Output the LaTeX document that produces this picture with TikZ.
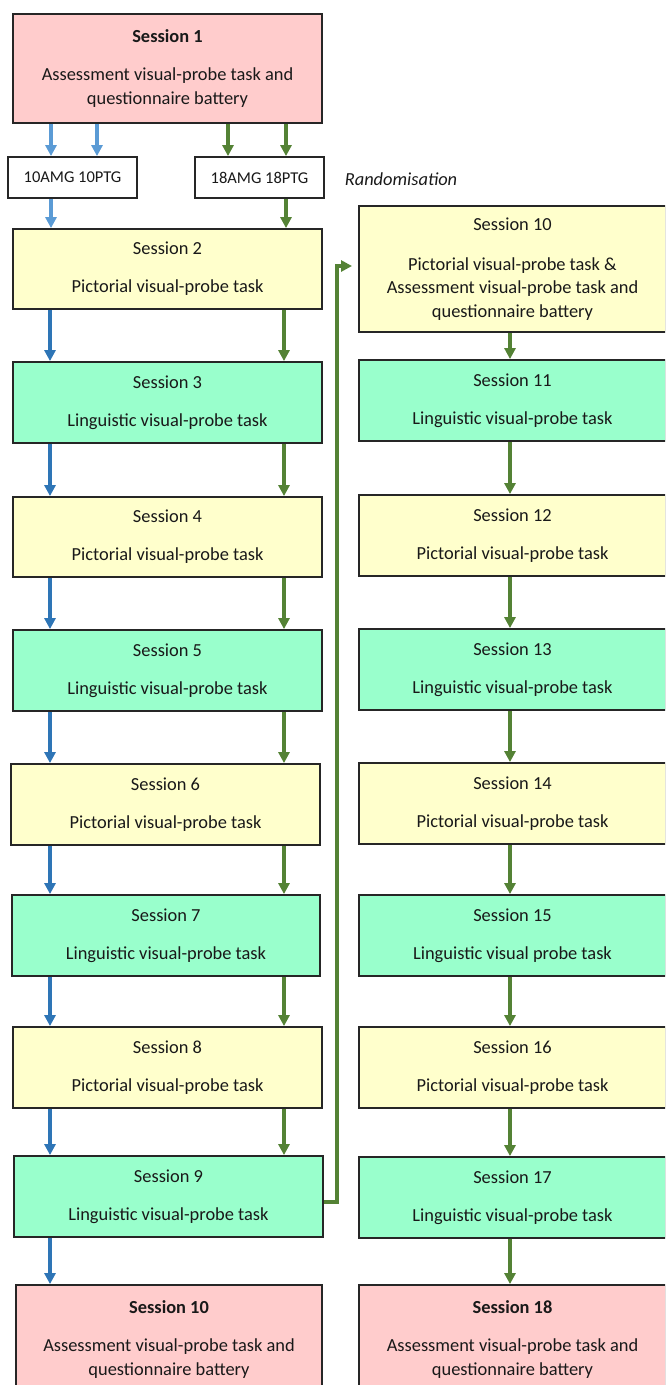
\documentclass[tikz,border=0pt]{standalone}
\usepackage{fontspec}
\setmainfont{Carlito}
\usetikzlibrary{arrows.meta}
\definecolor{pinkf}{RGB}{255,204,204}
\definecolor{yelf}{RGB}{255,255,204}
\definecolor{grnf}{RGB}{153,255,204}
\definecolor{lblue}{RGB}{91,155,213}
\definecolor{dblue}{RGB}{46,117,182}
\definecolor{dgreen}{RGB}{84,130,53}
\tikzset{
  box/.style={draw=black!85, line width=1.8pt, align=center, inner sep=0pt,
    font=\fontsize{18.4}{23.5}\selectfont, text=black!90},
  lbox/.style={box, minimum width=309pt, minimum height=81pt},
  rbox/.style={box, minimum width=307pt, minimum height=81pt},
  gbox/.style={box, fill=white, minimum width=129pt, minimum height=41pt, font=\fontsize{16.5}{19}\selectfont},
  arr/.style={line width=3.6pt, -{Triangle[width=11pt,length=11pt]}},
  barrL/.style={arr, draw=lblue},
  barr/.style={arr, draw=dblue},
  garr/.style={arr, draw=dgreen},
}
\begin{document}
\begin{tikzpicture}[x=1pt,y=-1pt]
\useasboundingbox (0,0) rectangle (665,1385);
\begin{scope}
\clip (0,0) rectangle (665,1385);
% left column
\node[lbox, fill=pinkf, minimum height=109pt] (s1) at (167.5,68.5) {\textbf{Session 1}\\[15pt]Assessment visual-probe task and\\questionnaire battery};
\node[gbox] (ga) at (72.5,177.5) {10AMG 10PTG};
\node[gbox] (gb) at (259.5,177.5) {18AMG 18PTG};
\node[font=\fontsize{18.4}{22}\selectfont\itshape, text=black!90, inner sep=0pt] (rand) at (401,179) {Randomisation};
\node[lbox, fill=yelf, minimum height=80pt] (s2) at (167.5,269) {Session 2\\[14.5pt]Pictorial visual-probe task};
\node[lbox, fill=grnf] (s3) at (167.5,402.5) {Session 3\\[14.5pt]Linguistic visual-probe task};
\node[lbox, fill=yelf, minimum height=80pt] (s4) at (167.5,537) {Session 4\\[14.5pt]Pictorial visual-probe task};
\node[lbox, fill=grnf] (s5) at (167.5,670.5) {Session 5\\[14.5pt]Linguistic visual-probe task};
\node[lbox, fill=yelf] (s6) at (165.5,804.5) {Session 6\\[14.5pt]Pictorial visual-probe task};
\node[lbox, fill=grnf, minimum width=308pt] (s7) at (166,935.5) {Session 7\\[14.5pt]Linguistic visual-probe task};
\node[lbox, fill=yelf] (s8) at (167.5,1067.5) {Session 8\\[14.5pt]Pictorial visual-probe task};
\node[lbox, fill=grnf] (s9) at (168.5,1196.5) {Session 9\\[14.5pt]Linguistic visual-probe task};
\node[lbox, fill=pinkf, minimum width=306pt, minimum height=109pt] (s10) at (169,1339.5) {\textbf{Session 10}\\[15pt]Assessment visual-probe task and\\questionnaire battery};
% right column
\node[rbox, fill=yelf, minimum height=126pt] (r10) at (512.5,269) {Session 10\\[16pt]Pictorial visual-probe task \&\\Assessment visual-probe task and\\questionnaire battery};
\node[rbox, fill=grnf] (r11) at (512.5,400.5) {Session 11\\[14.5pt]Linguistic visual-probe task};
\node[rbox, fill=yelf] (r12) at (512.5,535.5) {Session 12\\[14.5pt]Pictorial visual-probe task};
\node[rbox, fill=grnf] (r13) at (512.5,669.5) {Session 13\\[14.5pt]Linguistic visual-probe task};
\node[rbox, fill=yelf] (r14) at (512.5,803.5) {Session 14\\[14.5pt]Pictorial visual-probe task};
\node[rbox, fill=grnf] (r15) at (512.5,935.5) {Session 15\\[14.5pt]Linguistic visual probe task};
\node[rbox, fill=yelf] (r16) at (512.5,1067.5) {Session 16\\[14.5pt]Pictorial visual-probe task};
\node[rbox, fill=grnf] (r17) at (512.5,1197.5) {Session 17\\[14.5pt]Linguistic visual-probe task};
\node[rbox, fill=pinkf, minimum height=109pt] (r18) at (512.5,1339.5) {\textbf{Session 18}\\[15pt]Assessment visual-probe task and\\questionnaire battery};
\end{scope}
% x positions of arrow columns
\coordinate (xa1) at (51,0);
\coordinate (xa2) at (97,0);
\coordinate (xg1) at (228,0);
\coordinate (xg2) at (286,0);
\coordinate (xb) at (50,0);
\coordinate (xg) at (284,0);
\coordinate (xr) at (510,0);
% top arrows
\draw[barrL] (s1.south -| xa1) -- (ga.north -| xa1);
\draw[barrL] (s1.south -| xa2) -- (ga.north -| xa2);
\draw[garr] (s1.south -| xg1) -- (gb.north -| xg1);
\draw[garr] (s1.south -| xg2) -- (gb.north -| xg2);
\draw[barrL] (ga.south -| xa1) -- (s2.north -| xa1);
\draw[garr] (gb.south -| xg2) -- (s2.north -| xg2);
% left column arrows
\foreach \a/\b in {s2/s3,s3/s4,s4/s5,s5/s6,s6/s7,s7/s8,s8/s9}{
  \draw[barr] (\a.south -| xb) -- (\b.north -| xb);
  \draw[garr] (\a.south -| xg) -- (\b.north -| xg);
}
\draw[barr] (s9.south -| xb) -- (s10.north -| xb);
% right column arrows
\foreach \a/\b in {r10/r11,r11/r12,r12/r13,r13/r14,r14/r15,r15/r16,r16/r17,r17/r18}{
  \draw[garr] (\a.south -| xr) -- (\b.north -| xr);
}
% long connector
\coordinate (tip) at (352,266);
\draw[garr, line join=miter] (s9.east |- 0,1202) -- (337,1202) -- (337,266) -- (tip);
\end{tikzpicture}
\end{document}
